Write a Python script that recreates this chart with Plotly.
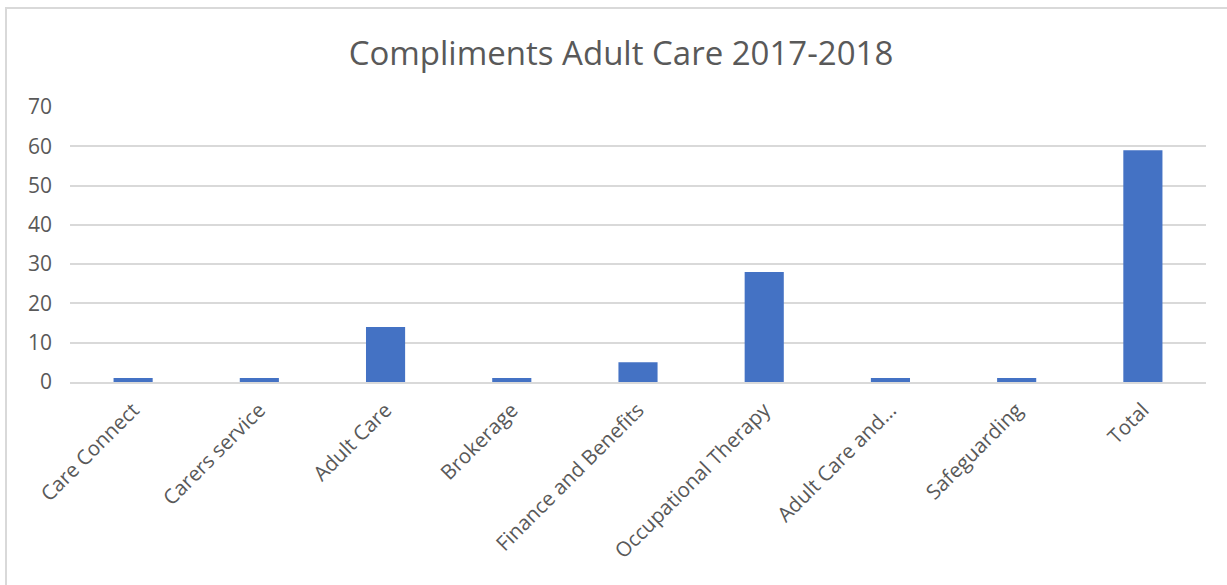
import plotly.graph_objects as go

categories = ["Care Connect", "Carers service", "Adult Care", "Brokerage",
              "Finance and Benefits", "Occupational Therapy", "Adult Care and...",
              "Safeguarding", "Total"]
values = [1, 1, 14, 1, 5, 28, 1, 1, 59]
y_ticks = [0, 10, 20, 30, 40, 50, 60, 70]
title_text = "Compliments Adult Care 2017-2018"

W, H = 1227, 585
L, R, T, B = 70, 21, 107, 203
pw, ph = W - L - R, H - T - B

def px_x(x):
    return (x - L) / pw

def px_y(y):
    return 1 - (y - T) / ph

FONT = "Open Sans"
TXT = "#595959"

fig = go.Figure(go.Bar(x=categories, y=values, marker=dict(color="#4472C4", line=dict(width=0))))

fig.update_layout(
    width=W, height=H,
    margin=dict(l=L, r=R, t=T, b=B),
    paper_bgcolor="white", plot_bgcolor="white",
    bargap=0.69,
    showlegend=False,
    font=dict(family=FONT, color=TXT),
    title=dict(text=title_text, xref="container", x=621 / W, xanchor="center",
               yref="container", y=1 - 53 / H, yanchor="middle",
               font=dict(family=FONT, size=33, color=TXT)),
    xaxis=dict(tickangle=-45, tickfont=dict(size=20.5, color=TXT, family=FONT),
               showgrid=False, showline=True, linecolor="#D9D9D9", linewidth=2,
               ticks="", fixedrange=True, ticklabelstandoff=6),
    yaxis=dict(range=[0, 70], tickvals=y_ticks, tickfont=dict(size=21, color=TXT, family=FONT),
               showgrid=True, gridcolor="#D9D9D9", gridwidth=1.5, zeroline=False,
               showline=False, ticks="", ticklabelstandoff=17),
    shapes=[dict(type="rect", xref="paper", yref="paper",
                 x0=px_x(6), x1=px_x(1240), y0=px_y(600), y1=px_y(8),
                 line=dict(color="#D9D9D9", width=2), fillcolor="rgba(0,0,0,0)", layer="below")],
)

fig.write_html("out.html")
